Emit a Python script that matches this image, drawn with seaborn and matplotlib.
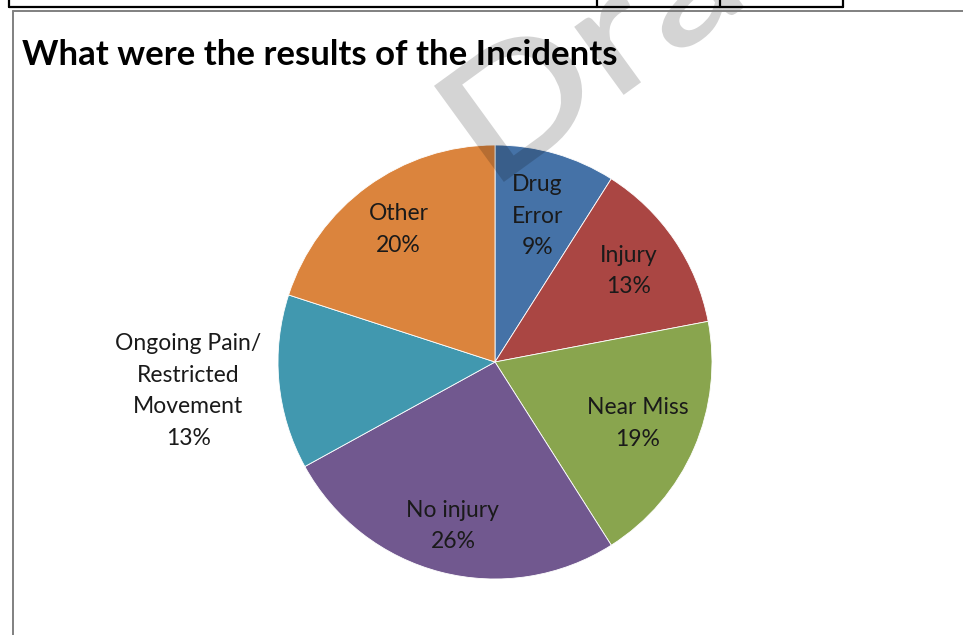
import numpy as np
import matplotlib
matplotlib.use("Agg")
import matplotlib.pyplot as plt
from matplotlib.lines import Line2D
from matplotlib.textpath import TextPath
from matplotlib.patches import PathPatch
from matplotlib.font_manager import FontProperties
from matplotlib.transforms import Affine2D
import seaborn as sns

# Data
categories = ["Drug\nError", "Injury", "Near Miss", "No injury",
              "Ongoing Pain/\nRestricted\nMovement", "Other"]
percents = [9, 13, 19, 26, 13, 20]
slice_colors = ["#4572A7", "#AA4643", "#89A54E", "#71588F", "#4198AF", "#DB843D"]
label_dist = [0.70, 0.745, 0.715, 0.78, 1.42, 0.755]

sns.set_theme(style="white")
plt.rcParams["font.family"] = ["Lato", "DejaVu Sans"]

W, H = 963, 635
fig = plt.figure(figsize=(W / 100, H / 100), dpi=100)
fig.patch.set_facecolor("white")

# pie axes: centre (495, 362) px, radius 217 px
cx, cy, r = 495, 362, 217
ax = fig.add_axes([(cx - r) / W, (H - cy - r) / H, 2 * r / W, 2 * r / H])
palette = sns.color_palette(slice_colors)
wedges, _ = ax.pie(percents, colors=palette, startangle=90, counterclock=False,
                   wedgeprops=dict(edgecolor="white", linewidth=0.6))
ax.set_xlim(-1, 1)
ax.set_ylim(-1, 1)
ax.axis("off")

# slice labels
for w, lab, p, d in zip(wedges, categories, percents, label_dist):
    ang = np.deg2rad((w.theta1 + w.theta2) / 2)
    ax.text(d * np.cos(ang), d * np.sin(ang), f"{lab}\n{p}%", ha="center", va="center",
            fontsize=16.5, color="#1a1a1a", linespacing=1.62, clip_on=False)

# title
fig.text(22 / W, 1 - 65 / H, "What were the results of the Incidents",
         fontsize=25, fontweight="bold", color="black", ha="left", va="baseline")

# page/table borders
def px_line(x0, y0, x1, y1, color, lw):
    fig.add_artist(Line2D([x0 / W, x1 / W], [1 - y0 / H, 1 - y1 / H],
                          color=color, linewidth=lw, transform=fig.transFigure))

px_line(9, 7, 843, 7, "black", 1.6)
for xv in [9, 597, 720, 843]:
    px_line(xv, 0, xv, 7, "black", 1.6)
px_line(13, 11, 963, 11, "#808080", 1.4)
px_line(13, 11, 13, 635, "#808080", 1.4)

# "Draft" watermark (stretched, rotated, semi-transparent)
tp = TextPath((0, 0), "Draft", size=1, prop=FontProperties(family="Lato", weight="semibold"))
wm_tf = (Affine2D().scale(200, 165).rotate_deg(36).translate(490, H - 192)
         + Affine2D().scale(1 / W, 1 / H) + fig.transFigure)
fig.add_artist(PathPatch(tp, facecolor="black", edgecolor="none", alpha=0.17, transform=wm_tf))

fig.savefig("out.png", dpi=100)
